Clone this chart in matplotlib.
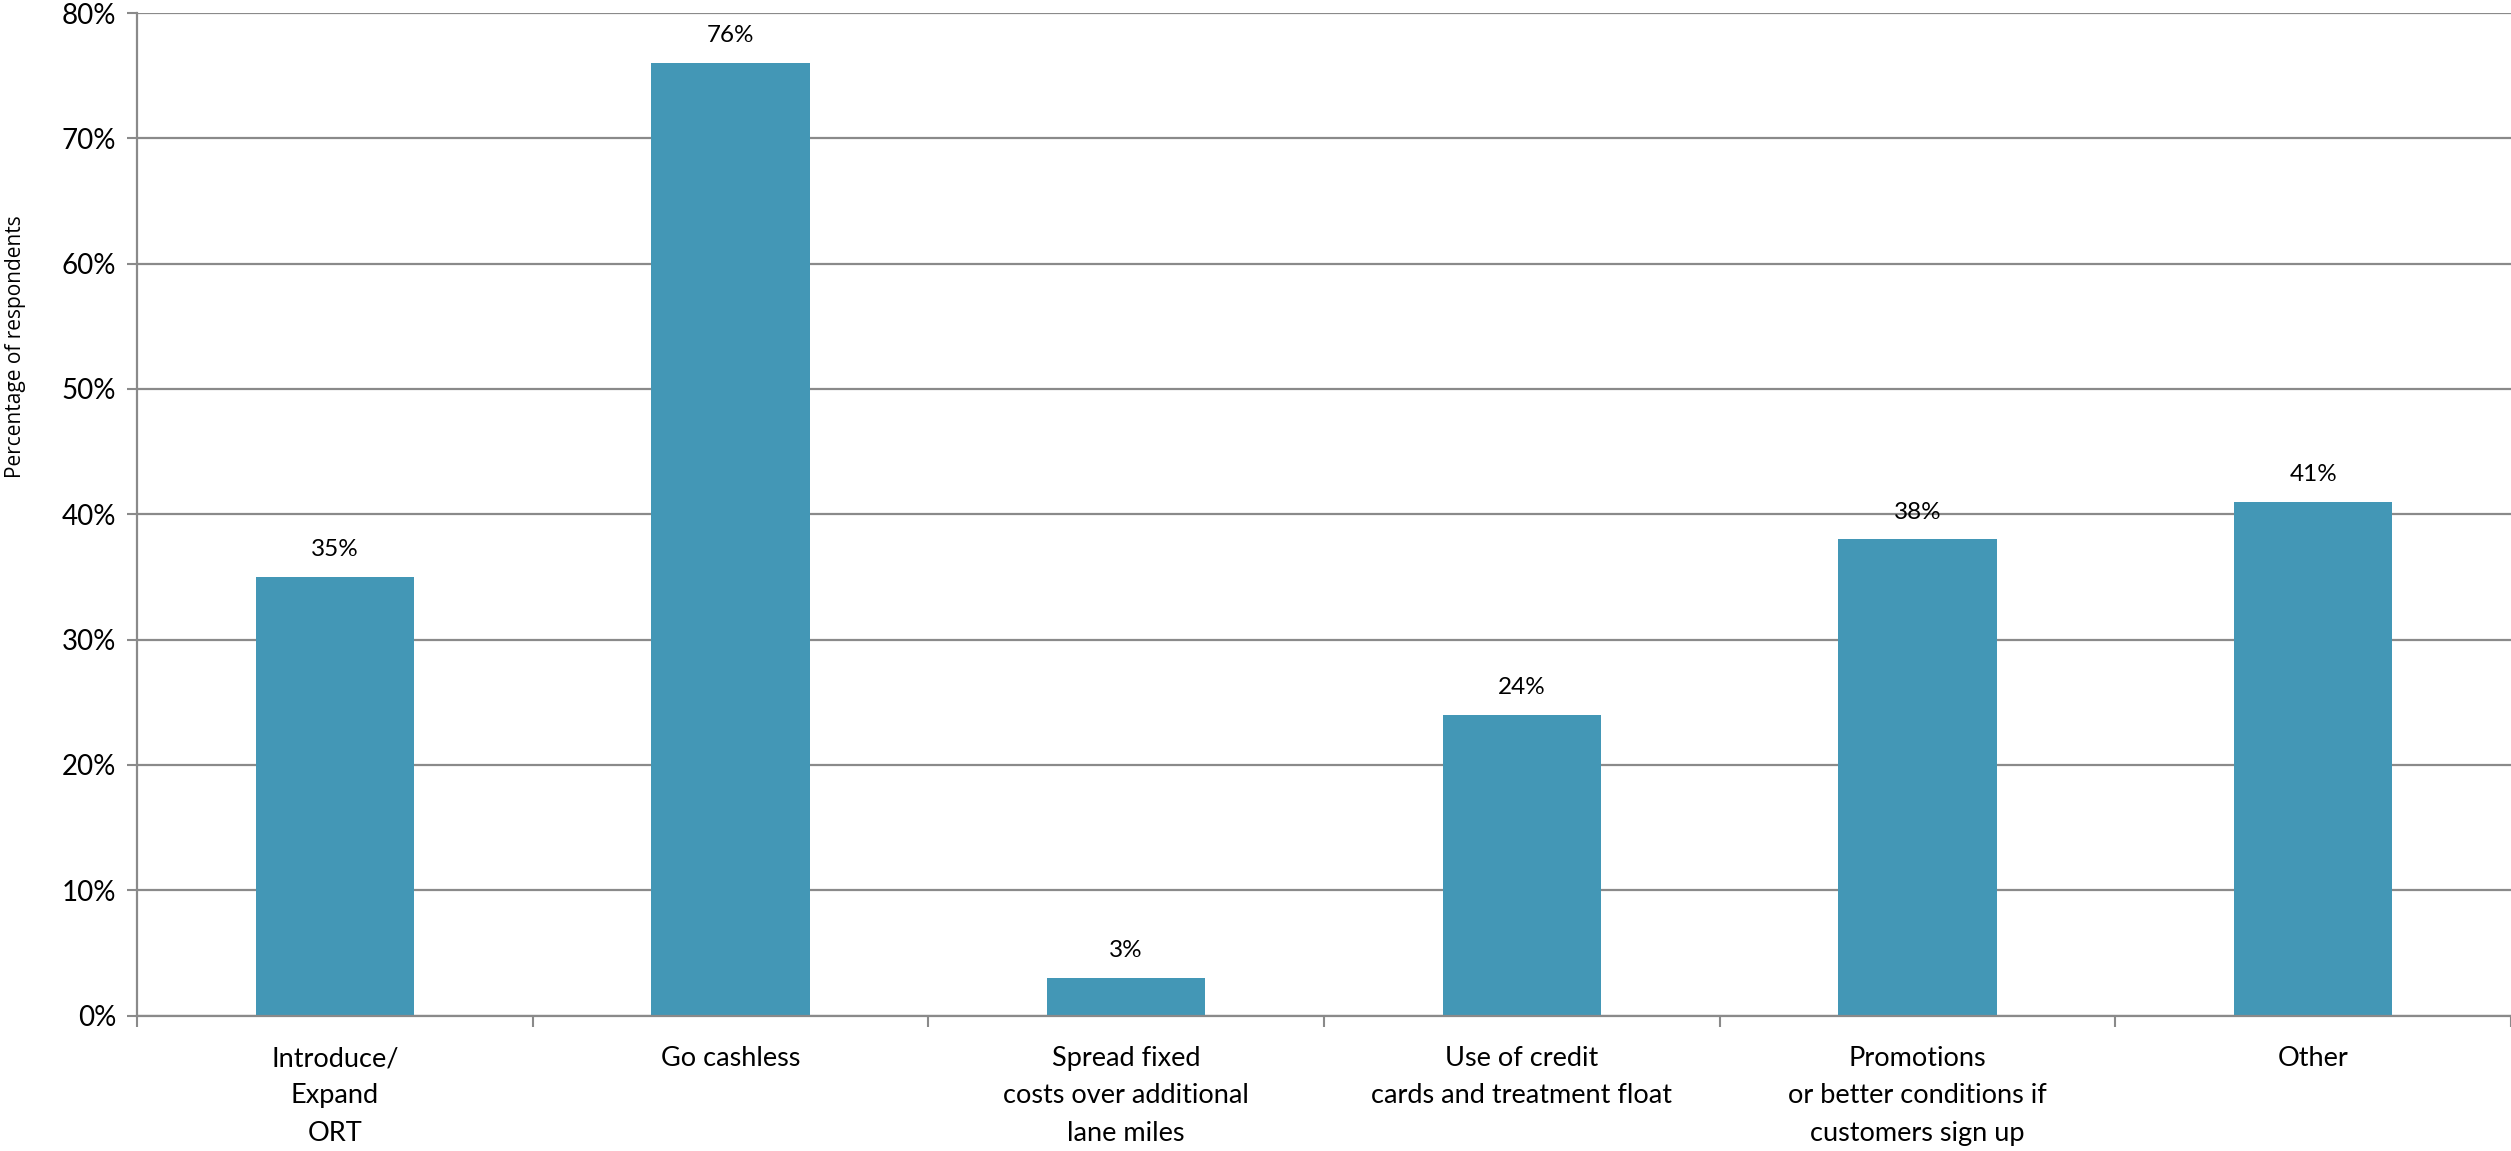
import matplotlib
matplotlib.use("Agg")
import matplotlib.pyplot as plt
from matplotlib.ticker import FixedLocator, FuncFormatter

categories = ["Introduce/\nExpand\nORT", "Go cashless",
              "Spread fixed\ncosts over additional\nlane miles",
              "Use of credit\ncards and treatment float",
              "Promotions\nor better conditions if\ncustomers sign up",
              "Other"]
values = [35, 76, 3, 24, 38, 41]
y_ticks = [0, 10, 20, 30, 40, 50, 60, 70, 80]

bar_color = "#4397b6"
grid_color = "#8a8a8a"
font = "Lato"

fig = plt.figure(figsize=(25.11, 11.51), dpi=100)
ax = fig.add_axes([137/2511, 1 - 1015.5/1151, 1 - 137/2511, (1015.5 - 13)/1151])

x = list(range(len(categories)))
ax.bar(x, values, width=0.40, color=bar_color, zorder=3)

ax.set_xlim(-0.5, len(categories) - 0.5)
ax.set_ylim(0, 80)
ax.set_yticks(y_ticks)
ax.yaxis.set_major_formatter(FuncFormatter(lambda v, p: f"{int(v)}%"))
ax.grid(axis="y", color=grid_color, linewidth=1.6, zorder=0)

ax.xaxis.set_major_locator(FixedLocator([i - 0.5 for i in range(len(categories) + 1)]))
ax.xaxis.set_major_formatter(FuncFormatter(lambda v, p: ""))
ax.set_xticks(x, minor=True)
ax.set_xticklabels(categories, minor=True, fontsize=19.5, family=font, linespacing=1.62)
ax.tick_params(axis="x", which="minor", length=0, pad=22)
ax.tick_params(axis="x", which="major", length=8, width=1.5, color=grid_color)
ax.tick_params(axis="y", length=7, width=1.5, color=grid_color, pad=8)
for lbl in ax.get_yticklabels():
    lbl.set_fontsize(20)
    lbl.set_family(font)

for s in ["top", "right"]:
    ax.spines[s].set_visible(False)
for s in ["left", "bottom"]:
    ax.spines[s].set_color(grid_color)
    ax.spines[s].set_linewidth(1.6)
ax.spines["bottom"].set_zorder(4)

for xi, v in zip(x, values):
    ax.annotate(f"{v}%", (xi, v), xytext=(0, 12), textcoords="offset points",
                ha="center", va="bottom", fontsize=17.5, family=font)

fig.text(16/2511, 1 - 347/1151, "Percentage of respondents", rotation=90,
         ha="center", va="center", fontsize=15, family="Open Sans")

fig.savefig("out.png", dpi=100)
